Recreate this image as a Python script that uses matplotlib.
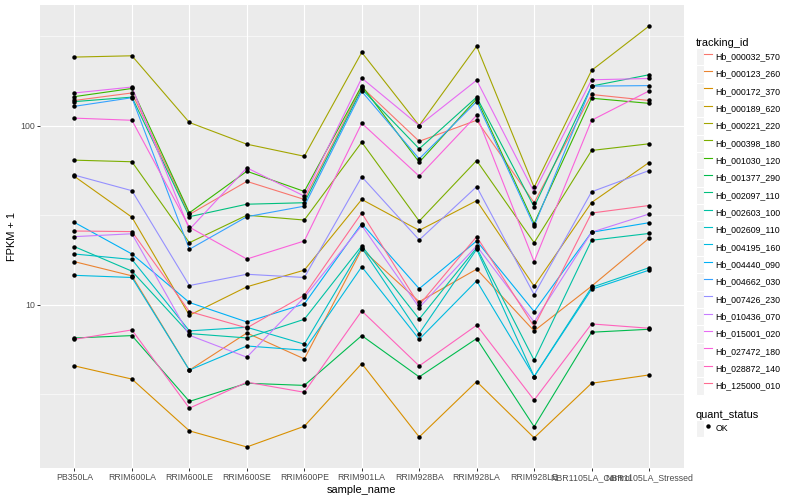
import numpy as np
import matplotlib
matplotlib.use("Agg")
import matplotlib.pyplot as plt
from matplotlib.lines import Line2D
from matplotlib.patches import Patch
from matplotlib.legend_handler import HandlerTuple

plt.rcParams['font.family'] = ['Liberation Sans', 'DejaVu Sans']

samples = ["PB350LA", "RRIM600LA", "RRIM600LE", "RRIM600SE", "RRIM600PE",
           "RRIM901LA", "RRIM928BA", "RRIM928LA", "RRIM928LE",
           "NBR1105LA_Control", "NBR1105LA_Stressed"]

# FPKM + 1 per gene, one value per sample
hb_000032_570 = [138, 152, 31.9, 48.8, 38.7, 164, 81.7, 107, 37.1, 149, 138]
hb_000123_260 = [17.4, 14.5, 4.32, 6.96, 4.99, 20.4, 10.4, 15.8, 7.15, 12.7, 23.5]
hb_000172_370 = [4.56, 3.85, 1.98, 1.61, 2.10, 4.70, 1.83, 3.73, 1.81, 3.65, 4.06]
hb_000189_620 = [52.0, 30.8, 8.74, 12.6, 15.6, 38.7, 26.0, 38.1, 12.7, 37.2, 62.2]
hb_000221_220 = [241, 245, 104, 78.7, 67.4, 256, 100, 277, 45.3, 203, 359]
hb_000398_180 = [64.1, 62.8, 22.2, 31.6, 29.7, 80.7, 29.3, 63.8, 22.2, 72.6, 79.1]
hb_001030_120 = [145, 161, 32.6, 55.6, 42.9, 167, 62.4, 141, 28.4, 142, 133]
hb_001377_290 = [6.53, 6.73, 2.89, 3.65, 3.55, 6.73, 3.96, 6.48, 2.09, 7.03, 7.30]
hb_002097_110 = [136, 144, 31.0, 36.4, 37.1, 160, 74.2, 144, 35.2, 166, 192]
hb_002603_100 = [21.1, 15.4, 6.91, 6.53, 8.30, 21.3, 8.32, 20.8, 4.91, 22.9, 25.0]
hb_002609_110 = [19.2, 17.9, 7.15, 7.49, 6.03, 20.8, 6.91, 20.4, 3.98, 12.5, 16.1]
hb_004195_160 = [14.6, 14.2, 4.32, 5.89, 5.58, 16.3, 6.42, 13.6, 3.98, 12.2, 15.6]
hb_004440_090 = [28.8, 19.2, 10.3, 8.02, 10.1, 28.4, 12.3, 22.7, 9.17, 25.4, 28.7]
hb_004662_030 = [128, 143, 20.4, 31.0, 35.5, 155, 65.2, 136, 27.5, 166, 167]
hb_007426_230 = [52.9, 43.3, 12.8, 14.8, 14.2, 51.8, 23.0, 45.6, 11.4, 42.7, 56.1]
hb_010436_070 = [24.0, 24.9, 6.76, 5.10, 11.0, 27.7, 9.65, 21.3, 8.02, 25.4, 32.1]
hb_015001_020 = [152, 164, 26.3, 58.1, 40.4, 184, 100, 179, 42.5, 180, 183]
hb_027472_180 = [110, 107, 27.1, 18.0, 22.7, 103, 52.2, 114, 17.4, 107, 156]
hb_028872_140 = [6.42, 7.24, 2.65, 3.70, 3.25, 9.24, 4.56, 7.69, 2.94, 7.82, 7.40]
hb_125000_010 = [25.8, 25.6, 9.17, 7.43, 11.3, 32.5, 9.97, 24.0, 7.56, 32.5, 35.8]

tracking_ids = ["Hb_000032_570", "Hb_000123_260", "Hb_000172_370", "Hb_000189_620",
                "Hb_000221_220", "Hb_000398_180", "Hb_001030_120", "Hb_001377_290",
                "Hb_002097_110", "Hb_002603_100", "Hb_002609_110", "Hb_004195_160",
                "Hb_004440_090", "Hb_004662_030", "Hb_007426_230", "Hb_010436_070",
                "Hb_015001_020", "Hb_027472_180", "Hb_028872_140", "Hb_125000_010"]
series = [hb_000032_570, hb_000123_260, hb_000172_370, hb_000189_620,
          hb_000221_220, hb_000398_180, hb_001030_120, hb_001377_290,
          hb_002097_110, hb_002603_100, hb_002609_110, hb_004195_160,
          hb_004440_090, hb_004662_030, hb_007426_230, hb_010436_070,
          hb_015001_020, hb_027472_180, hb_028872_140, hb_125000_010]

# ggplot hue palette, 20 levels
colors = ["#F8766D", "#EA8331", "#D89000", "#C09B00", "#A3A500", "#7CAE00",
          "#39B600", "#00BB4E", "#00BF7D", "#00C1A3", "#00BFC4", "#00BAE0",
          "#00B0F6", "#35A2FF", "#9590FF", "#C77CFF", "#E76BF3", "#FA62DB",
          "#FF62BC", "#FF6C91"]

fig = plt.figure(figsize=(8, 5), dpi=100)
ax = fig.add_axes([40 / 800, 32 / 500, 643.5 / 800, 463 / 500])
ax.set_facecolor("#EBEBEB")
for s in ax.spines.values():
    s.set_visible(False)

x = np.arange(len(samples))
for vals, c in zip(series, colors):
    ax.plot(x, vals, color=c, lw=0.8, zorder=2)
for vals in series:
    ax.plot(x, vals, 'o', color='black', ms=3.2, mew=0, zorder=3)

ax.set_yscale('log')
allv = np.log10(np.concatenate([np.array(v) for v in series]))
lo, hi = allv.min(), allv.max()
pad = 0.05 * (hi - lo)
ax.set_ylim(10 ** (lo - pad), 10 ** (hi + pad))
ax.set_xlim(-0.6, len(samples) - 0.4)

ax.set_yticks([10, 100])
ax.set_yticklabels(["10", "100"])
ax.set_yticks([10 ** 0.5, 10 ** 1.5, 10 ** 2.5], minor=True)
ax.yaxis.set_minor_formatter(matplotlib.ticker.NullFormatter())
ax.set_xticks(x)
ax.set_xticklabels(samples)
ax.tick_params(axis='both', which='major', length=2, width=0.7, color='#333333',
               labelsize=6.3, labelcolor='#4D4D4D', pad=1.6)
ax.tick_params(axis='y', which='minor', length=0)
ax.grid(True, which='major', color='white', lw=0.8)
ax.grid(True, which='minor', axis='y', color='white', lw=0.4)
ax.set_axisbelow(True)

ax.set_xlabel("sample_name", fontsize=7.9, labelpad=2)
ax.set_ylabel("FPKM + 1", fontsize=7.9, labelpad=2.5)

key_bg = dict(facecolor="#F2F2F2", edgecolor="white", linewidth=0.8)
leg_style = dict(loc='upper left', frameon=False, fontsize=6.3, title_fontsize=7.9,
                 handler_map={tuple: HandlerTuple(ndivide=None)},
                 handlelength=1.8, handleheight=2.67, labelspacing=0,
                 handletextpad=0.45, borderpad=0, borderaxespad=0,
                 alignment='left')

handles = [(Patch(**key_bg), Line2D([], [], color=c, lw=0.8)) for c in colors]
leg1 = fig.legend(handles, tracking_ids, title="tracking_id",
                  bbox_to_anchor=(696 / 800, 1 - 38 / 500), **leg_style)

ok_handle = (Patch(**key_bg),
             Line2D([], [], marker='o', color='black', ls='none', ms=3.2, mew=0))
leg2 = fig.legend([ok_handle], ["OK"], title="quant_status",
                  bbox_to_anchor=(696 / 800, 1 - 410 / 500), **leg_style)

fig.savefig("out.png", dpi=100)
